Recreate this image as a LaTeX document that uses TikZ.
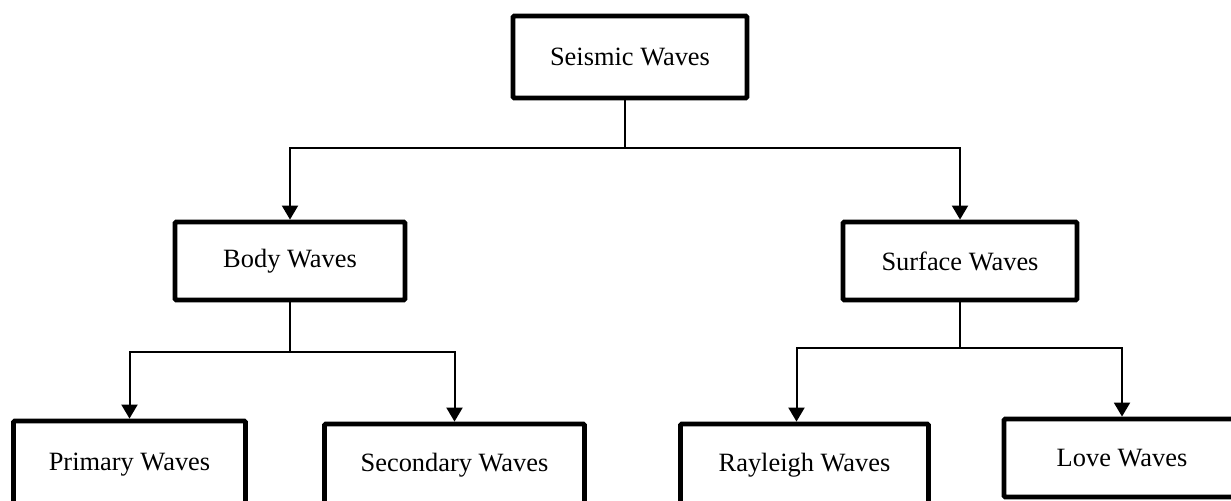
\documentclass[tikz,border=0pt]{standalone}
\usepackage{fontspec}
\setmainfont{Liberation Serif}
\usetikzlibrary{arrows.meta}

\begin{document}
\begin{tikzpicture}
            [x=0.5pt,y=0.5pt,
             every node/.style={draw,line width=2.4pt,rounded corners=0.6pt,
                                font=\fontsize{13.2}{16}\selectfont,
                                minimum height=39pt,inner sep=0pt},
             arr/.style={line width=1pt,-{Triangle[length=7pt,width=8pt]}}]
            \clip (0,0) rectangle (1231,501);
            \node[minimum width=117pt,minimum height=41pt] (SW) at (630,444) {Seismic Waves};
            \node[minimum width=115pt] (BW) at (290,240) {Body Waves};
            \node[minimum width=117pt] (FW) at (960,240) {Surface Waves};
            \node[minimum width=116pt,minimum height=44pt] (PW) at (129.5,36) {Primary Waves};
            \node[minimum width=130pt,minimum height=41pt] (SE) at (454.5,36) {Secondary Waves};
            \node[minimum width=124pt,minimum height=41pt] (RW) at (804.5,36) {Rayleigh Waves};
            \node[minimum width=118pt] (LW) at (1122,43) {Love Waves};

            % first level
            \draw[arr] ([xshift=-2.5pt]SW.south) -- ++(0,-48) -| (BW.north);
            \draw[arr] ([xshift=-2.5pt]SW.south) -- ++(0,-48) -| (FW.north);

            % body waves
            \draw[arr] (BW.south) -- ++(0,-50) -| (PW.north);
            \draw[arr] (BW.south) -- ++(0,-50) -| (SE.north);

            % surface waves
            \draw[arr] (FW.south) -- ++(0,-46) -| ([xshift=-4pt]RW.north);
            \draw[arr] (FW.south) -- ++(0,-46) -| (LW.north);
        \end{tikzpicture}
\end{document}
